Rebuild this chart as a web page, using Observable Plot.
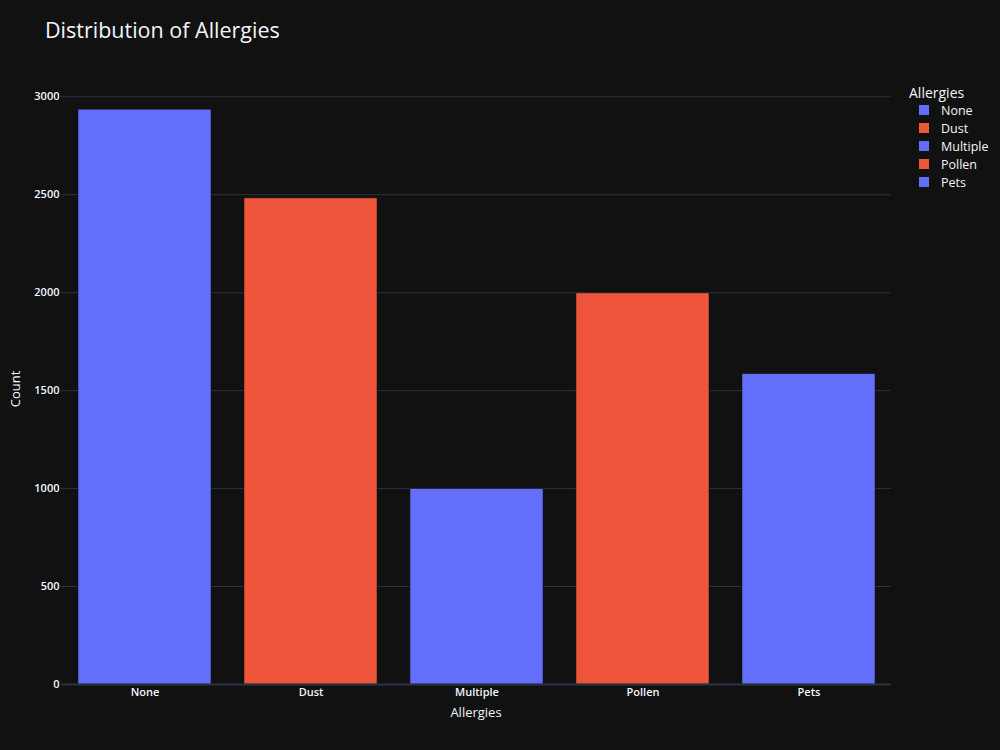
<!DOCTYPE html>
<html><head><meta charset="utf-8">
<script src="https://cdn.jsdelivr.net/npm/d3@7"></script>
<script src="https://cdn.jsdelivr.net/npm/@observablehq/plot@0.6"></script>
<style>
body{margin:0;background:#111111;}
#wrap{position:relative;width:1000px;height:750px;background:#111111;font-family:"Open Sans",sans-serif;color:#f2f5fa;overflow:hidden;}
#wrap svg{position:absolute;left:0;top:0;}
#title{position:absolute;left:45px;top:15px;font-size:21.5px;white-space:nowrap;}
#xlabel{position:absolute;left:376px;width:200px;text-align:center;top:703px;font-size:13px;}
#ylabel{position:absolute;left:15px;top:389px;font-size:13px;transform:translate(-50%,-50%) rotate(-90deg);white-space:nowrap;}
#legend{position:absolute;left:909px;top:83px;}
#legend .lt{font-size:14px;margin-bottom:-1px;}
#legend .item{display:flex;align-items:center;height:18px;font-size:12.5px;}
#legend .sw{width:10px;height:10px;margin-left:10px;margin-right:12px;}
</style></head>
<body><div id="wrap">
<div id="title">Distribution of Allergies</div>
<div id="ylabel">Count</div>
<div id="xlabel">Allergies</div>
<div id="legend"></div>
</div>
<script>
const categories = ["None", "Dust", "Multiple", "Pollen", "Pets"];
const counts = [2934, 2481, 997, 1996, 1584];
const palette = ["#636efa", "#EF553B", "#636efa", "#EF553B", "#636efa"];
const yTicks = [0, 500, 1000, 1500, 2000, 2500, 3000];

const data = categories.map((c, i) => ({cat: c, count: counts[i]}));
const gridColor = "#283442";

const chart = Plot.plot({
  width: 1000,
  height: 750,
  marginLeft: 61,
  marginRight: 109,
  marginTop: 79,
  marginBottom: 66,
  style: {background: "transparent", color: "#f2f5fa", fontFamily: "'Open Sans', sans-serif"},
  x: {domain: categories, paddingInner: 0.2, paddingOuter: 0.1, label: null},
  y: {domain: [0, 3088], label: null},
  color: {type: "ordinal", domain: categories, range: palette},
  marks: [
    Plot.gridY(yTicks.filter(d => d > 0), {stroke: gridColor, strokeOpacity: 1, strokeWidth: 1}),
    Plot.barY(data, {x: "cat", y: "count", fill: "cat", stroke: "#111111", strokeWidth: 0.5}),
    Plot.ruleY([0], {stroke: gridColor, strokeWidth: 2}),
    Plot.axisY({ticks: yTicks, tickSize: 0, tickPadding: 2, fontSize: 11, fontWeight: 600, tickFormat: d3.format("d"), label: null}),
    Plot.axisX({tickSize: 0, tickPadding: 4, fontSize: 11, fontWeight: 600, label: null})
  ]
});
document.getElementById("wrap").prepend(chart);

const legend = document.getElementById("legend");
const lt = document.createElement("div");
lt.className = "lt"; lt.textContent = "Allergies";
legend.appendChild(lt);
categories.forEach((c, i) => {
  const it = document.createElement("div");
  it.className = "item";
  const sw = document.createElement("div");
  sw.className = "sw"; sw.style.background = palette[i];
  const tx = document.createElement("span");
  tx.textContent = c;
  it.appendChild(sw); it.appendChild(tx);
  legend.appendChild(it);
});
</script>
</body></html>
